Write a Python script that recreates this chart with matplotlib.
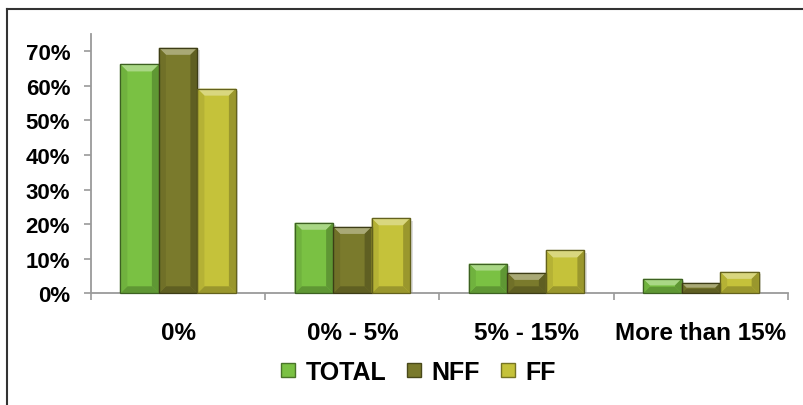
import matplotlib
matplotlib.use("Agg")
import matplotlib.pyplot as plt
import numpy as np
from matplotlib.patches import Polygon, Rectangle
from matplotlib.lines import Line2D
from matplotlib.colors import to_rgb
from matplotlib.transforms import IdentityTransform

categories = ["0%", "0% - 5%", "5% - 15%", "More than 15%"]
series_names = ["TOTAL", "NFF", "FF"]
total = [0.662, 0.204, 0.086, 0.042]
nff = [0.710, 0.192, 0.059, 0.030]
ff = [0.592, 0.217, 0.124, 0.062]
y_ticks = [0.0, 0.1, 0.2, 0.3, 0.4, 0.5, 0.6, 0.7]
y_tick_labels = ["0%", "10%", "20%", "30%", "40%", "50%", "60%", "70%"]

colors = ["#7AC143", "#7A7A2C", "#C5C23A"]

plt.rcParams["font.family"] = ["Liberation Sans", "DejaVu Sans"]
plt.rcParams["font.weight"] = "bold"

fig = plt.figure(figsize=(8.04, 4.06), dpi=100)
ax = fig.add_axes([91 / 804, 1 - 294.3 / 406, (788 - 91) / 804, (294.3 - 35) / 406])

x = np.arange(len(categories))
width = 0.221
bars = []
for i, (vals, col) in enumerate(zip([total, nff, ff], colors)):
    b = ax.bar(x + (i - 1) * width, vals, width, color=col,
               edgecolor=np.array(to_rgb(col)) * 0.55, linewidth=0.9, zorder=3)
    bars.append(b)

ax.set_xlim(-0.5, len(categories) - 0.5)
ax.set_ylim(0, 0.75)
ax.set_yticks(y_ticks)
ax.set_yticklabels(y_tick_labels, fontsize=16, fontweight="bold")
ax.set_xticks(x)
ax.set_xticklabels(categories, fontsize=17.5, fontweight="bold")
ax.set_xticks(np.arange(len(categories) + 1) - 0.5, minor=True)
ax.tick_params(axis="x", which="major", length=0, pad=20)
ax.tick_params(axis="x", which="minor", length=5, color="#9a9a9a", width=1.2)
ax.tick_params(axis="y", length=5, color="#9a9a9a", width=1.2, pad=10)
for s in ["top", "right"]:
    ax.spines[s].set_visible(False)
for s in ["left", "bottom"]:
    ax.spines[s].set_color("#9a9a9a")
    ax.spines[s].set_linewidth(1.3)

# bevelled faces and soft shadows for each bar, in pixel space
fig.canvas.draw()
for cont, col in zip(bars, colors):
    base = np.array(to_rgb(col))
    light = np.clip(base + (1 - base) * 0.35, 0, 1)
    dark = base * 0.78
    side = base * 0.92
    for p in cont.patches:
        bb = p.get_window_extent()
        x0, x1, y0, y1 = bb.x0, bb.x1, bb.y0, bb.y1
        shadow = Rectangle((x0 + 2.5, y0), x1 - x0, y1 - y0 - 2.5,
                           transform=IdentityTransform(),
                           facecolor=(0, 0, 0, 0.13), edgecolor="none", zorder=2)
        ax.add_patch(shadow)
        bv = min(7.0, (y1 - y0) / 2.2)
        faces = [
            ([(x0, y1), (x1, y1), (x1 - bv, y1 - bv), (x0 + bv, y1 - bv)], light),
            ([(x0, y0), (x1, y0), (x1 - bv, y0 + bv), (x0 + bv, y0 + bv)], dark),
            ([(x0, y0), (x0, y1), (x0 + bv, y1 - bv), (x0 + bv, y0 + bv)], side),
            ([(x1, y0), (x1, y1), (x1 - bv, y1 - bv), (x1 - bv, y0 + bv)], dark),
        ]
        for pts, c in faces:
            fig.patches.append(Polygon(pts, closed=True, transform=None,
                                       facecolor=c, edgecolor="none", zorder=4))
        fig.patches.append(Rectangle((x0, y0), x1 - x0, y1 - y0, transform=None,
                                     facecolor="none",
                                     edgecolor=base * 0.5, linewidth=0.9, zorder=5))

handles = [Line2D([], [], marker="s", linestyle="none", markersize=10,
                  markerfacecolor=c, markeredgecolor=np.array(to_rgb(c)) * 0.6)
           for c in colors]
fig.legend(handles, series_names, loc="center", bbox_to_anchor=(417 / 804, 1 - 373 / 406),
           ncol=3, frameon=False, prop={"size": 18, "weight": "bold"},
           handletextpad=0.3, columnspacing=0.7, handlelength=0.8)

# outer frame along the left and top edges
fig.add_artist(Line2D([7.5 / 804, 7.5 / 804], [0, 1 - 9.5 / 406], color="#333333", lw=1.5))
fig.add_artist(Line2D([7.5 / 804, 1], [1 - 9.5 / 406, 1 - 9.5 / 406], color="#333333", lw=1.5))

fig.savefig("out.png", dpi=100)
